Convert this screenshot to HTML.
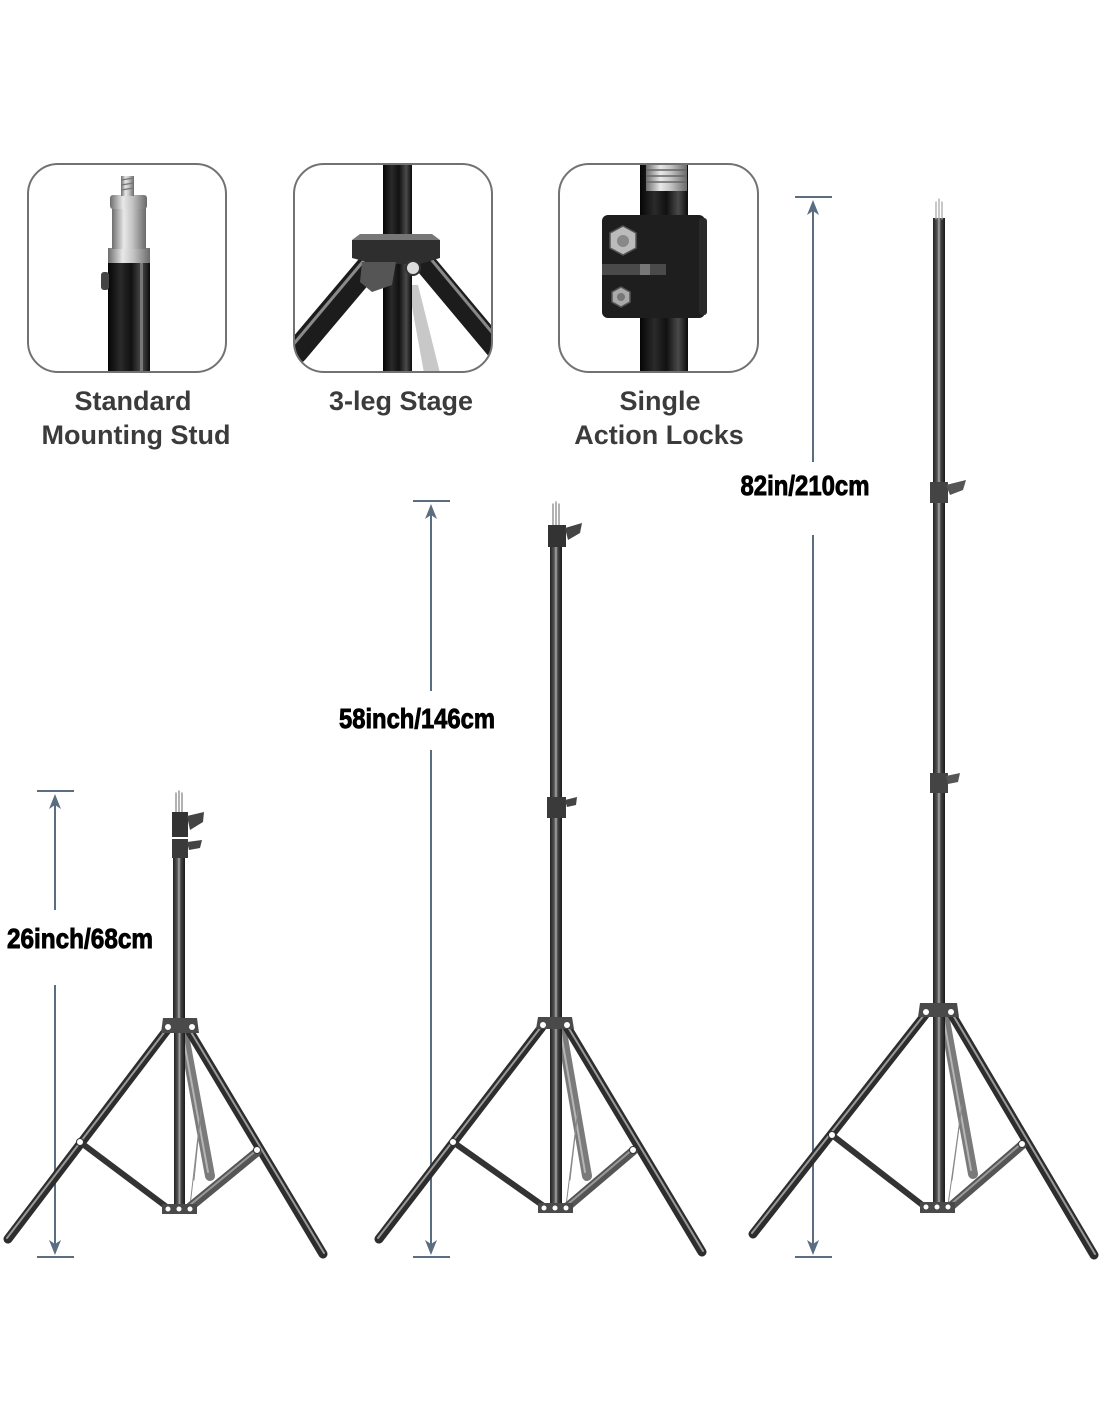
<!DOCTYPE html>
<html><head><meta charset="utf-8"><style>
html,body{margin:0;padding:0;background:#fff;}
svg{display:block;}
</style></head><body>
<svg width="1100" height="1422" viewBox="0 0 1100 1422" xmlns="http://www.w3.org/2000/svg">
<defs>
<linearGradient id="metal" x1="0" x2="1" y1="0" y2="0">
<stop offset="0" stop-color="#6d6d6d"/><stop offset="0.35" stop-color="#e8e8e8"/><stop offset="0.6" stop-color="#c4c4c4"/><stop offset="1" stop-color="#6a6a6a"/>
</linearGradient>
<linearGradient id="blk" x1="0" x2="1" y1="0" y2="0">
<stop offset="0" stop-color="#050505"/><stop offset="0.3" stop-color="#2a2a2a"/><stop offset="0.55" stop-color="#111"/><stop offset="0.8" stop-color="#4a4a4a"/><stop offset="1" stop-color="#0a0a0a"/>
</linearGradient>
<linearGradient id="pole" x1="0" x2="1" y1="0" y2="0">
<stop offset="0" stop-color="#222"/><stop offset="0.35" stop-color="#555"/><stop offset="0.5" stop-color="#aaa"/><stop offset="0.65" stop-color="#444"/><stop offset="1" stop-color="#1a1a1a"/>
</linearGradient>
<clipPath id="c1"><rect x="28" y="164" width="198" height="208" rx="30"/></clipPath>
<clipPath id="c2"><rect x="294" y="164" width="198" height="208" rx="30"/></clipPath>
<clipPath id="c3"><rect x="559" y="164" width="199" height="208" rx="30"/></clipPath>
</defs>

<!-- Box 1 -->
<g clip-path="url(#c1)">
<rect x="108" y="262" width="42" height="112" fill="url(#blk)"/>
<rect x="140" y="262" width="3" height="112" fill="#777"/>
<rect x="108" y="248" width="42" height="15" fill="url(#metal)"/>
<rect x="112" y="208" width="34" height="41" fill="url(#metal)"/>
<rect x="110" y="195" width="37" height="14" rx="3" fill="url(#metal)"/>
<rect x="121" y="176" width="13" height="20" fill="url(#metal)"/>
<g stroke="#777" stroke-width="1.3"><line x1="121" y1="180" x2="134" y2="178"/><line x1="121" y1="185" x2="134" y2="183"/><line x1="121" y1="190" x2="134" y2="188"/></g>
<rect x="101" y="272" width="8" height="18" rx="3" fill="#444"/>
</g>
<rect x="28" y="164" width="198" height="208" rx="30" fill="none" stroke="#727272" stroke-width="2"/>

<!-- Box 2 -->
<g clip-path="url(#c2)">
<polygon points="408,285 418,285 440,373 424,373" fill="#c8c8c8"/>
<rect x="383" y="163" width="29" height="211" fill="url(#blk)"/>
<line x1="372" y1="262" x2="296" y2="352" stroke="#1c1c1c" stroke-width="24" stroke-linecap="round"/>
<line x1="366" y1="258" x2="292" y2="346" stroke="#8a8a8a" stroke-width="3"/>
<line x1="424" y1="262" x2="496" y2="348" stroke="#1c1c1c" stroke-width="22" stroke-linecap="round"/>
<line x1="430" y1="258" x2="500" y2="342" stroke="#888" stroke-width="3"/>
<polygon points="352,240 440,240 440,258 420,264 375,264 352,258" fill="#2e2e2e"/>
<polygon points="352,240 440,240 432,234 360,234" fill="#777"/>
<polygon points="362,262 396,262 392,285 372,292 360,282" fill="#555"/>
<circle cx="413" cy="268" r="7" fill="#ddd" stroke="#333" stroke-width="2"/>
</g>
<rect x="294" y="164" width="198" height="208" rx="30" fill="none" stroke="#727272" stroke-width="2"/>

<!-- Box 3 -->
<g clip-path="url(#c3)">
<rect x="640" y="163" width="48" height="211" fill="url(#blk)"/>
<rect x="646" y="163" width="41" height="28" fill="url(#metal)"/>
<g stroke="#666" stroke-width="1.5"><line x1="646" y1="170" x2="687" y2="170"/><line x1="646" y1="176" x2="687" y2="176"/><line x1="646" y1="182" x2="687" y2="182"/></g>
<rect x="602" y="215" width="103" height="103" rx="6" fill="#1e1e1e"/>
<rect x="699" y="218" width="8" height="97" rx="3" fill="#2a2a2a"/>
<rect x="602" y="264" width="64" height="11" fill="#4a4a4a"/>
<rect x="640" y="264" width="10" height="11" fill="#777"/>
<polygon points="623,226 636,233 636,248 623,255 610,248 610,233" fill="#bbb" stroke="#555" stroke-width="1.5"/>
<circle cx="623" cy="241" r="6" fill="#888"/>
<polygon points="621,287 630,292 630,302 621,307 612,302 612,292" fill="#aaa" stroke="#555" stroke-width="1.5"/>
<circle cx="621" cy="297" r="4" fill="#777"/>
</g>
<rect x="559" y="164" width="199" height="208" rx="30" fill="none" stroke="#727272" stroke-width="2"/>

<!-- Box labels -->
<g font-family="Liberation Sans, Arial, sans-serif" font-weight="bold" font-size="27" fill="#3b3b3b" text-anchor="middle">
<text x="133" y="410">Standard</text>
<text x="136" y="444">Mounting Stud</text>
<text x="401" y="410">3-leg Stage</text>
<text x="660" y="410">Single</text>
<text x="659" y="444">Action Locks</text>
</g>

<!-- Dimension lines -->
<g stroke="#5b6d80" stroke-width="2" fill="none">
<line x1="37" y1="791" x2="74" y2="791"/><line x1="55" y1="800" x2="55" y2="910"/><line x1="55" y1="985" x2="55" y2="1248"/><line x1="37" y1="1257" x2="74" y2="1257"/>
<line x1="413" y1="501" x2="450" y2="501"/><line x1="431" y1="510" x2="431" y2="691"/><line x1="431" y1="750" x2="431" y2="1248"/><line x1="413" y1="1257" x2="450" y2="1257"/>
<line x1="795" y1="197" x2="832" y2="197"/><line x1="813" y1="206" x2="813" y2="462"/><line x1="813" y1="535" x2="813" y2="1248"/><line x1="795" y1="1257" x2="832" y2="1257"/>
</g>
<g fill="#5b6d80">
<polygon points="55,794 61,809 55,805 49,809"/><polygon points="55,1255 61,1240 55,1244 49,1240"/>
<polygon points="431,504 437,519 431,515 425,519"/><polygon points="431,1255 437,1240 431,1244 425,1240"/>
<polygon points="813,200 819,215 813,211 807,215"/><polygon points="813,1255 819,1240 813,1244 807,1240"/>
</g>

<!-- Dimension labels -->
<g font-family="Liberation Sans, Arial, sans-serif" font-weight="bold" font-size="28" fill="#000" stroke="#000" stroke-width="0.9" text-anchor="middle">
<text x="80" y="948" textLength="146" lengthAdjust="spacingAndGlyphs">26inch/68cm</text>
<text x="417" y="728" textLength="156" lengthAdjust="spacingAndGlyphs">58inch/146cm</text>
<text x="805" y="495" textLength="129" lengthAdjust="spacingAndGlyphs">82in/210cm</text>
</g>

<!-- Tripod 1 -->
<g stroke-linecap="round">
<line x1="184" y1="1035" x2="210" y2="1176" stroke="#7a7a7a" stroke-width="10"/>
<line x1="183" y1="1036" x2="208" y2="1172" stroke="#b5b5b5" stroke-width="2"/>
<g stroke="#888" stroke-width="1"><line x1="190" y1="1206" x2="201" y2="1110"/><line x1="201" y1="1110" x2="194" y2="1180"/></g>
<rect x="174" y="1030" width="11" height="178" fill="url(#pole)"/>
<line x1="167" y1="1030" x2="8" y2="1239" stroke="#2d2d2d" stroke-width="9"/>
<line x1="166" y1="1030" x2="7" y2="1238" stroke="#999" stroke-width="2"/>
<line x1="190" y1="1032" x2="323" y2="1254" stroke="#2d2d2d" stroke-width="9"/>
<line x1="191" y1="1032" x2="324" y2="1253" stroke="#999" stroke-width="2"/>
<line x1="80" y1="1142" x2="168" y2="1208" stroke="#333" stroke-width="6"/>
<line x1="257" y1="1152" x2="190" y2="1207" stroke="#555" stroke-width="9"/>
<line x1="257" y1="1150" x2="190" y2="1205" stroke="#999" stroke-width="2"/>
<circle cx="80" cy="1142" r="3.5" fill="#fff" stroke="#333" stroke-width="1"/>
<circle cx="257" cy="1150" r="3.5" fill="#fff" stroke="#333" stroke-width="1"/>
<rect x="173" y="850" width="12" height="170" fill="url(#pole)"/>
<polygon points="163,1018 197,1018 199,1033 161,1033" fill="#4a4a4a"/>
<circle cx="168" cy="1027" r="3" fill="#fff"/><circle cx="192" cy="1027" r="3" fill="#fff"/>
<rect x="162" y="1204" width="35" height="10" fill="#4a4a4a"/>
<circle cx="168" cy="1209" r="2.5" fill="#fff"/><circle cx="179" cy="1209" r="2.5" fill="#fff"/><circle cx="190" cy="1209" r="2.5" fill="#fff"/>
<g stroke="#999" stroke-width="1.5"><line x1="176" y1="793" x2="176" y2="813"/><line x1="179" y1="791" x2="179" y2="813"/><line x1="182" y1="793" x2="182" y2="813"/></g>
<rect x="172" y="812" width="16" height="25" fill="#333"/>
<polygon points="187,816 204,812 203,822 190,830" fill="#444"/>
<rect x="172" y="839" width="16" height="19" fill="#3a3a3a"/>
<polygon points="187,842 202,840 200,848 189,850" fill="#444"/>
</g>

<!-- Tripod 2 -->
<g stroke-linecap="round">
<line x1="562" y1="1032" x2="587" y2="1176" stroke="#7a7a7a" stroke-width="10"/>
<line x1="561" y1="1033" x2="585" y2="1172" stroke="#b5b5b5" stroke-width="2"/>
<g stroke="#888" stroke-width="1"><line x1="566" y1="1206" x2="578" y2="1110"/><line x1="578" y1="1110" x2="570" y2="1180"/></g>
<rect x="550" y="1028" width="12" height="180" fill="url(#pole)"/>
<line x1="542" y1="1027" x2="379" y2="1239" stroke="#2d2d2d" stroke-width="9"/>
<line x1="541" y1="1027" x2="378" y2="1238" stroke="#999" stroke-width="2"/>
<line x1="567" y1="1027" x2="702" y2="1252" stroke="#2d2d2d" stroke-width="9"/>
<line x1="568" y1="1027" x2="703" y2="1251" stroke="#999" stroke-width="2"/>
<line x1="453" y1="1142" x2="545" y2="1207" stroke="#333" stroke-width="6"/>
<line x1="633" y1="1151" x2="567" y2="1207" stroke="#555" stroke-width="9"/>
<line x1="633" y1="1149" x2="567" y2="1205" stroke="#999" stroke-width="2"/>
<circle cx="453" cy="1142" r="3.5" fill="#fff" stroke="#333" stroke-width="1"/>
<circle cx="633" cy="1150" r="3.5" fill="#fff" stroke="#333" stroke-width="1"/>
<rect x="550" y="547" width="12" height="472" fill="url(#pole)"/>
<polygon points="538,1017 572,1017 574,1029 536,1029" fill="#4a4a4a"/>
<circle cx="543" cy="1025" r="3" fill="#fff"/><circle cx="567" cy="1025" r="3" fill="#fff"/>
<rect x="538" y="1203" width="35" height="10" fill="#4a4a4a"/>
<circle cx="544" cy="1208" r="2.5" fill="#fff"/><circle cx="555" cy="1208" r="2.5" fill="#fff"/><circle cx="566" cy="1208" r="2.5" fill="#fff"/>
<g stroke="#999" stroke-width="1.5"><line x1="553" y1="504" x2="553" y2="526"/><line x1="556" y1="502" x2="556" y2="526"/><line x1="559" y1="504" x2="559" y2="526"/></g>
<rect x="548" y="525" width="18" height="22" fill="#333"/>
<polygon points="565,528 582,523 580,533 568,540" fill="#444"/>
<rect x="547" y="797" width="19" height="21" fill="#3a3a3a"/>
<polygon points="565,800 577,797 576,805 567,807" fill="#444"/>
</g>

<!-- Tripod 3 -->
<g stroke-linecap="round">
<line x1="945" y1="1020" x2="973" y2="1174" stroke="#7a7a7a" stroke-width="10"/>
<line x1="944" y1="1021" x2="971" y2="1170" stroke="#b5b5b5" stroke-width="2"/>
<g stroke="#888" stroke-width="1"><line x1="948" y1="1205" x2="962" y2="1105"/><line x1="962" y1="1105" x2="952" y2="1180"/></g>
<rect x="933" y="1015" width="12" height="192" fill="url(#pole)"/>
<line x1="925" y1="1015" x2="753" y2="1234" stroke="#2d2d2d" stroke-width="9"/>
<line x1="924" y1="1015" x2="752" y2="1233" stroke="#999" stroke-width="2"/>
<line x1="952" y1="1015" x2="1094" y2="1255" stroke="#2d2d2d" stroke-width="9"/>
<line x1="953" y1="1015" x2="1095" y2="1254" stroke="#999" stroke-width="2"/>
<line x1="832" y1="1135" x2="925" y2="1207" stroke="#333" stroke-width="6"/>
<line x1="1022" y1="1145" x2="950" y2="1207" stroke="#555" stroke-width="9"/>
<line x1="1022" y1="1143" x2="950" y2="1205" stroke="#999" stroke-width="2"/>
<circle cx="832" cy="1135" r="3.5" fill="#fff" stroke="#333" stroke-width="1"/>
<circle cx="1022" cy="1144" r="3.5" fill="#fff" stroke="#333" stroke-width="1"/>
<rect x="933" y="218" width="12" height="787" fill="url(#pole)"/>
<polygon points="920,1003 957,1003 959,1017 918,1017" fill="#4a4a4a"/>
<circle cx="926" cy="1012" r="3" fill="#fff"/><circle cx="951" cy="1012" r="3" fill="#fff"/>
<rect x="920" y="1202" width="35" height="11" fill="#4a4a4a"/>
<circle cx="926" cy="1207" r="2.5" fill="#fff"/><circle cx="937" cy="1207" r="2.5" fill="#fff"/><circle cx="948" cy="1207" r="2.5" fill="#fff"/>
<g stroke="#aaa" stroke-width="1.3"><line x1="936" y1="202" x2="936" y2="219"/><line x1="939" y1="199" x2="939" y2="219"/><line x1="942" y1="202" x2="942" y2="219"/></g>
<rect x="930" y="482" width="18" height="21" fill="#444"/>
<polygon points="946,485 966,480 963,490 950,495" fill="#555"/>
<rect x="930" y="773" width="18" height="20" fill="#444"/>
<polygon points="946,776 960,773 958,782 948,784" fill="#555"/>
</g>
</svg>
</body></html>
